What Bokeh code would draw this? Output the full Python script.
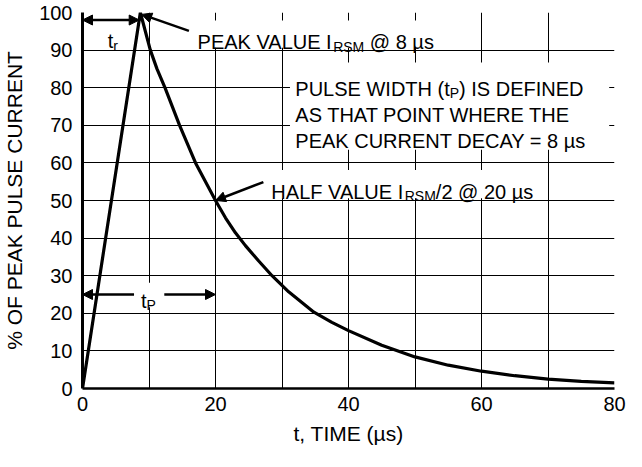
from bokeh.plotting import figure
from bokeh.models import Range1d, FixedTicker, Arrow, NormalHead
from bokeh.core.properties import value
from bokeh.embed import file_html
from bokeh.resources import INLINE

# ---------------- data ----------------
time_us = [0, 8.7, 10.2, 11.2, 12.4, 14.6, 17.0, 20.0, 21.5, 23.0, 24.5, 26.5, 28.5,
           31.0, 34.8, 37.5, 40, 45, 50, 55, 60, 65, 70, 75, 80]
pct_peak = [0, 100, 90, 85, 80, 70, 60, 50, 45.4, 41.4, 38.0, 33.9, 30.0,
            25.7, 20.3, 17.6, 15.4, 11.5, 8.4, 6.2, 4.6, 3.4, 2.5, 1.9, 1.5]

x_tick_values = [0, 20, 40, 60, 80]
x_grid_values = [0, 10, 20, 30, 40, 50, 60, 70, 80]
y_tick_values = [0, 10, 20, 30, 40, 50, 60, 70, 80, 90, 100]

peak_time = 8.7        # peak of the pulse
peak_value = 100
half_time = 20         # half value point
half_value = 50
tr_level = 98          # level of the rise-time arrow
tp_level = 25          # level of the pulse-width arrow

x_title = "t, TIME (µs)"
y_title = "% OF PEAK PULSE CURRENT"

FONT = "Liberation Sans"

# Arial / Liberation Sans advance widths (per 1000 em)
ADV = {" ": 278, "(": 333, ")": 333, ",": 278, "/": 278, "=": 584, "@": 1015,
       "µ": 576, "s": 500, "t": 278, "r": 333, "%": 889}
for c in "0123456789":
    ADV[c] = 556
ADV.update({"A": 667, "B": 667, "C": 722, "D": 722, "E": 667, "F": 611, "G": 778,
            "H": 722, "I": 278, "J": 500, "K": 667, "L": 556, "M": 833, "N": 722,
            "O": 778, "P": 667, "Q": 778, "R": 722, "S": 667, "T": 611, "U": 722,
            "V": 667, "W": 944, "X": 667, "Y": 667, "Z": 611})


def text_width(s, size):
    return sum(ADV.get(c, 600) for c in s) * size / 1000.0


p = figure(width=626, height=451,
           x_range=Range1d(0, 80), y_range=Range1d(0, 100),
           output_backend="svg", toolbar_location=None,
           min_border_left=82, min_border_right=12,
           min_border_top=12, min_border_bottom=63)
p.background_fill_color = "white"
p.border_fill_color = "white"
p.outline_line_color = None

# axes
p.xaxis.ticker = FixedTicker(ticks=x_tick_values)
p.yaxis.ticker = FixedTicker(ticks=y_tick_values)
for ax in (p.xaxis[0], p.yaxis[0]):
    ax.major_tick_out = 0
    ax.major_tick_in = 0
    ax.minor_tick_out = 0
    ax.minor_tick_in = 0
    ax.axis_line_color = "black"
    ax.major_label_text_font = FONT
    ax.major_label_text_font_size = "20px"
    ax.major_label_text_color = "black"
    ax.axis_label_text_font = FONT
    ax.axis_label_text_font_size = "21px"
    ax.axis_label_text_font_style = "normal"
    ax.axis_label_text_color = "black"
p.xaxis.axis_line_width = 2.5
p.yaxis.axis_line_width = 3
p.xaxis.major_label_standoff = 8
p.yaxis.major_label_standoff = 10
p.xaxis.axis_label = x_title
p.yaxis.axis_label = y_title
p.xaxis.axis_label_standoff = 8
p.yaxis.axis_label_standoff = 10

# grid
p.xgrid.ticker = FixedTicker(ticks=x_grid_values)
p.ygrid.ticker = FixedTicker(ticks=y_tick_values)
for g in (p.xgrid[0], p.ygrid[0]):
    g.grid_line_color = "black"
    g.grid_line_width = 1
    g.grid_line_alpha = 1

# white boxes behind annotation texts (left, right, bottom, top in data units)
boxes_left = [16.2, 31.2, 27.4, 7.75]
boxes_right = [55.6, 79.2, 69.4, 12.3]
boxes_bottom = [90.6, 63.5, 50.6, 21.6]
boxes_top = [97.9, 86.7, 58.1, 28.1]
p.quad(left=boxes_left, right=boxes_right, bottom=boxes_bottom, top=boxes_top,
       fill_color="white", line_color=None)

# the pulse curve
p.line(time_us, pct_peak, line_color="black", line_width=3.2, line_join="round")


def draw_rich(x, y, parts):
    off = 0.0
    for txt, size, dy in parts:
        lead = len(txt) - len(txt.lstrip(" "))
        shown = txt.strip(" ")
        p.text(x=[x], y=[y], text=[shown],
               x_offset=off + text_width(" " * lead, size), y_offset=dy,
               text_font=value(FONT), text_font_size=f"{size}px",
               text_align="left", text_baseline="alphabetic", text_color="black")
        off += text_width(txt, size)


A = 20   # annotation font size
S = 14   # subscript size
SUB = 4.5

draw_rich(17.3, 92.1, [("PEAK VALUE I", A, 0), ("RSM", S, SUB), (" @ 8 µs", A, 0)])
draw_rich(32.0, 79.7, [("PULSE WIDTH (t", A, 0), ("P", S, SUB), (") IS DEFINED", A, 0)])
draw_rich(32.0, 72.7, [("AS THAT POINT WHERE THE", A, 0)])
draw_rich(32.0, 65.8, [("PEAK CURRENT DECAY = 8 µs", A, 0)])
draw_rich(28.4, 52.3, [("HALF VALUE I", A, 0), ("RSM", S, SUB), ("/2 @ 20 µs", A, 0)])
draw_rich(3.8, 92.3, [("t", A, 0), ("r", S, SUB)])
draw_rich(8.8, 23.3, [("t", A, 0), ("P", S, SUB)])


def head():
    return NormalHead(size=10, fill_color="black", line_color="black", line_width=1)


# rise time arrow (axis to rising edge)
p.add_layout(Arrow(x_start=0, y_start=tr_level,
                   x_end=peak_time * tr_level / peak_value, y_end=tr_level,
                   start=head(), end=head(), line_width=2.5, line_color="black"))
# pulse width arrows
p.add_layout(Arrow(x_start=boxes_left[3], y_start=tp_level, x_end=0, y_end=tp_level,
                   end=head(), line_width=2.5, line_color="black"))
p.add_layout(Arrow(x_start=boxes_right[3], y_start=tp_level, x_end=half_time, y_end=tp_level,
                   end=head(), line_width=2.5, line_color="black"))
# pointer to the peak
p.add_layout(Arrow(x_start=16.0, y_start=95.1, x_end=peak_time + 0.2, y_end=peak_value - 0.5,
                   end=head(), line_width=2.5, line_color="black"))
# pointer to the half value
p.add_layout(Arrow(x_start=27.2, y_start=54.9, x_end=half_time, y_end=half_value,
                   end=head(), line_width=2.5, line_color="black"))

open("out.html", "w").write(file_html(p, INLINE))
